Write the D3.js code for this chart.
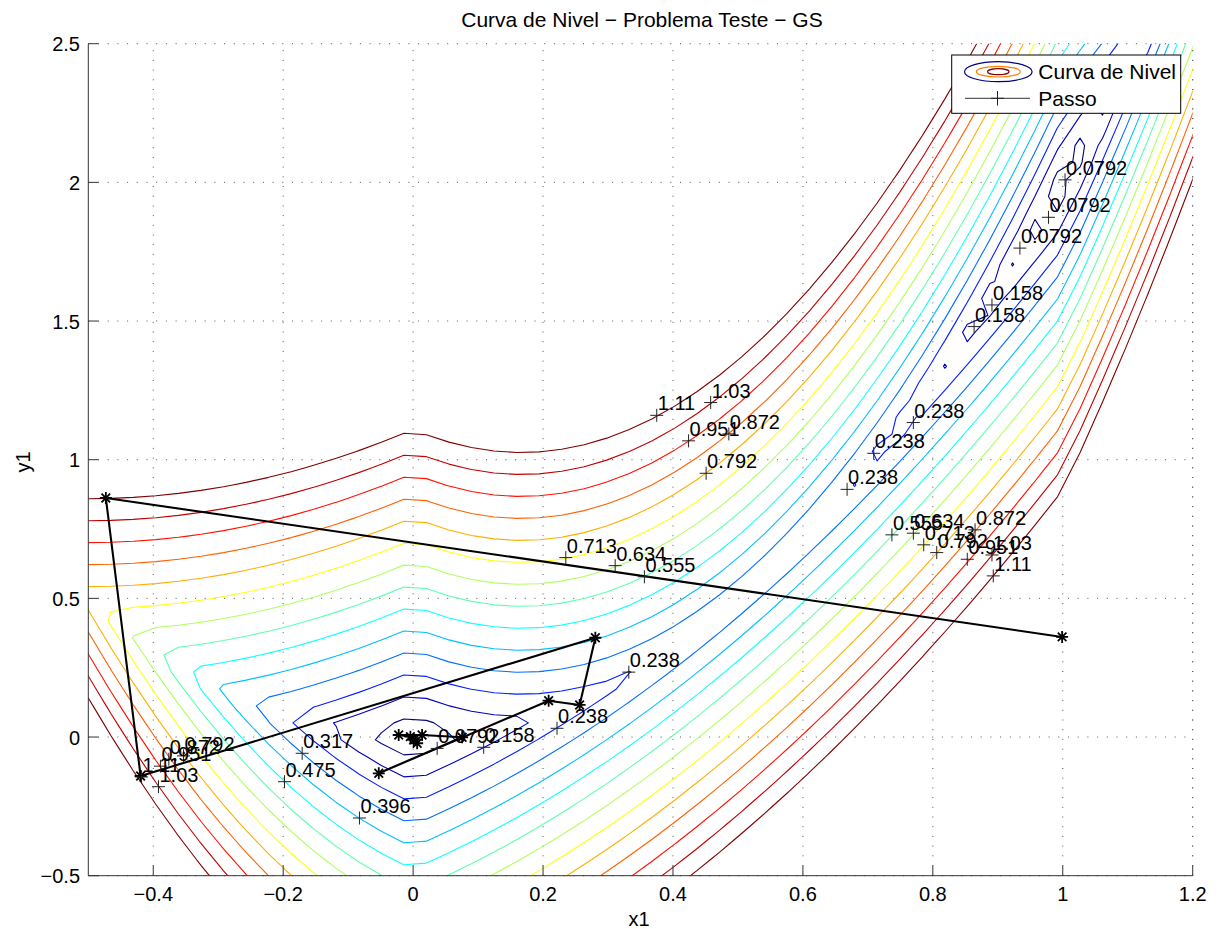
<!DOCTYPE html>
<html><head><meta charset="utf-8">
<script src="https://cdn.jsdelivr.net/npm/d3@7"></script>
<style>
html,body{margin:0;padding:0;background:#fff;}
svg{display:block;font-family:"Liberation Sans",Arial,Helvetica,sans-serif;}
</style></head><body>
<svg id="chart" width="1223" height="929"></svg>
<script>
// ---------- data ----------
const levels = [0.07924, 0.15848, 0.23772, 0.31696, 0.3962, 0.47544, 0.55468,
                0.63392, 0.71316, 0.7924, 0.87164, 0.95088, 1.03012, 1.10936];
const levelColors = ["#000080","#0000bf","#0020ff","#0070ff","#00bfff","#10ffff","#60ffaf",
                     "#afff60","#ffff10","#ffaf00","#ff6000","#ff1000","#bf0000","#800000"];

// iterates of the method ("Passo")
const pathX = [0.999, -0.473, -0.4195, 0.2805, 0.2563, 0.2086, -0.0529, 0.0754, 0.0138, -0.0222, -0.0042, 0.0062, 0.0009];
const pathY = [0.361, 0.862, -0.1405, 0.358, 0.1156, 0.131, -0.1307, -0.001, 0.0074, 0.0074, 0.0013, -0.0225, -0.0106];

// contour labels (clabel "+" points)
const labelText = ["1.11","1.03","0.951","0.872","0.792","0.713","0.634","0.555","0.238",
  "0.238","0.238","0.238","0.555","0.634","0.713","0.792","0.872","0.951","1.03","1.11",
  "0.0792","0.0792","0.0792","0.158","0.158","0.0792","0.158","0.238","0.396","0.317","0.475",
  "0.792","0.872","0.951","1.03","1.11"];
const labelX = [0.375,0.458,0.424,0.486,0.451,0.235,0.311,0.356,0.332,
  0.770,0.709,0.668,0.737,0.770,0.786,0.806,0.865,0.853,0.891,0.893,
  1.0035,0.978,0.934,0.891,0.8635,0.037,0.1086,0.2215,-0.0826,-0.1708,-0.198,
  -0.3534,-0.376,-0.389,-0.392,-0.418];
const labelY = [1.160,1.206,1.068,1.093,0.951,0.647,0.618,0.578,0.234,
  1.134,1.023,0.893,0.729,0.735,0.693,0.665,0.747,0.641,0.6565,0.581,
  2.009,1.874,1.763,1.558,1.480,-0.041,-0.037,0.0315,-0.292,-0.0586,-0.161,
  -0.068,-0.080,-0.105,-0.179,-0.144];

const xTicks = [-0.4,-0.2,0,0.2,0.4,0.6,0.8,1,1.2];
const xTickLabels = ["\u22120.4","\u22120.2","0","0.2","0.4","0.6","0.8","1","1.2"];
const yTicks = [-0.5,0,0.5,1,1.5,2,2.5];
const yTickLabels = ["\u22120.5","0","0.5","1","1.5","2","2.5"];

// sampling grid of the plotted surface (MATLAB-like meshgrid, 50 x 50)
const gridXRange = [-0.5, 1.2];
const gridYRange = [-0.5, 2.5];
const gridN = 50;
function surface(x, y) { return Math.abs(y - 2 * x * x) + Math.abs(x - x * x); }

// ---------- layout ----------
const svg = d3.select("#chart");
const L = 88.3, R = 1192.7, T = 43.7, B = 875.7;
const x = d3.scaleLinear().domain([-0.5, 1.2]).range([L, R]);
const y = d3.scaleLinear().domain([-0.5, 2.5]).range([B, T]);

svg.append("defs").append("clipPath").attr("id","clip")
  .append("rect").attr("x",L).attr("y",T).attr("width",R-L).attr("height",B-T);

// grid
const gGrid = svg.append("g").attr("stroke","#555").attr("stroke-width",1).attr("stroke-dasharray","1,8.7");
xTicks.concat([1.2]).forEach(t => gGrid.append("line").attr("x1",x(t)).attr("x2",x(t)).attr("y1",B).attr("y2",T));
yTicks.forEach(t => gGrid.append("line").attr("x1",L).attr("x2",R).attr("y1",y(t)).attr("y2",y(t)));

// contours
const ext = 2;
const dxg = (gridXRange[1]-gridXRange[0])/(gridN-1), dyg = (gridYRange[1]-gridYRange[0])/(gridN-1);
const nx = gridN + 2*ext, ny = gridN + 2*ext;
const values = new Float64Array(nx*ny);
for (let j = 0; j < ny; j++) for (let i = 0; i < nx; i++) {
  const xv = gridXRange[0] + (i-ext)*dxg, yv = gridYRange[0] + (j-ext)*dyg;
  values[j*nx+i] = surface(xv, yv);
}
const contours = d3.contours().size([nx, ny]).thresholds(levels)(values);
const proj = d3.geoTransform({point: function(px, py) {
  const xv = gridXRange[0] + (px - 0.5 - ext)*dxg, yv = gridYRange[0] + (py - 0.5 - ext)*dyg;
  this.stream.point(x(xv), y(yv));
}});
const gpath = d3.geoPath(proj);
const gC = svg.append("g").attr("clip-path","url(#clip)");
gC.selectAll("path.c").data(contours).join("path")
  .attr("d", gpath).attr("fill","none")
  .attr("stroke", (d,i) => levelColors[i]).attr("stroke-width",1.1).attr("stroke-linejoin","round");

// path of iterates
const pts = pathX.map((v,i)=>[v, pathY[i]]);
const gP = svg.append("g").attr("clip-path","url(#clip)");
gP.append("path").attr("d", d3.line().x(d=>x(d[0])).y(d=>y(d[1]))(pts))
  .attr("fill","none").attr("stroke","#000").attr("stroke-width",2.1).attr("stroke-linejoin","round");
gP.selectAll("path.star").data(pts).join("path")
  .attr("d","M-6,0H6M0,-6V6M-4.3,-4.3L4.3,4.3M-4.3,4.3L4.3,-4.3")
  .attr("transform", d=>`translate(${x(d[0])},${y(d[1])})`)
  .attr("stroke","#000").attr("stroke-width",1.8).attr("fill","none");

// contour labels
const gL = svg.append("g");
labelText.forEach((t,i) => {
  const px = x(labelX[i]), py = y(labelY[i]);
  gL.append("path").attr("d",`M${px-6.5},${py}H${px+6.5}M${px},${py-6.5}V${py+6.5}`)
    .attr("stroke","#222").attr("stroke-width",1);
  gL.append("text").attr("x",px+1).attr("y",py-5).attr("font-size",20).attr("fill","#000").text(t);
});

// axes
const gA = svg.append("g");
gA.append("line").attr("x1",L).attr("x2",L).attr("y1",T).attr("y2",B).attr("stroke","#333").attr("stroke-width",1);
gA.append("line").attr("x1",L).attr("x2",R).attr("y1",B).attr("y2",B).attr("stroke","#333").attr("stroke-width",1);
xTicks.forEach((t,i) => {
  gA.append("line").attr("x1",x(t)).attr("x2",x(t)).attr("y1",B).attr("y2",B-10).attr("stroke","#333");
  gA.append("text").attr("x",x(t)).attr("y",901).attr("text-anchor","middle").attr("font-size",20).text(xTickLabels[i]);
});
yTicks.forEach((t,i) => {
  gA.append("line").attr("x1",L).attr("x2",L+10).attr("y1",y(t)).attr("y2",y(t)).attr("stroke","#333");
  gA.append("text").attr("x",80).attr("y",y(t)+7.5).attr("text-anchor","end").attr("font-size",20).text(yTickLabels[i]);
});
gA.append("text").attr("x",639).attr("y",926).attr("text-anchor","middle").attr("font-size",20).text("x1");
gA.append("text").attr("transform","translate(29.5,462) rotate(-90)").attr("text-anchor","middle").attr("font-size",20).text("y1");
svg.append("text").attr("x",642).attr("y",27).attr("text-anchor","middle").attr("font-size",21)
  .text("Curva de Nivel \u2212 Problema Teste \u2212 GS");

// legend
const gLeg = svg.append("g");
gLeg.append("rect").attr("x",951.7).attr("y",55).attr("width",229).attr("height",58.3)
  .attr("fill","#fff").attr("stroke","#000").attr("stroke-width",1);
[[33.8,10,"#000080"],[22,5.3,"#ff8000"],[10.8,3,"#800000"]].forEach(e =>
  gLeg.append("ellipse").attr("cx",998.3).attr("cy",71.7).attr("rx",e[0]).attr("ry",e[1])
    .attr("fill","none").attr("stroke",e[2]).attr("stroke-width",1.2));
gLeg.append("text").attr("x",1038.3).attr("y",78.5).attr("font-size",21).text("Curva de Nivel");
gLeg.append("line").attr("x1",965).attr("x2",1030).attr("y1",98.3).attr("y2",98.3).attr("stroke","#333").attr("stroke-width",1);
gLeg.append("path").attr("d","M991,98.3H1004M997.5,91V105.5").attr("stroke","#222").attr("stroke-width",1);
gLeg.append("text").attr("x",1038.3).attr("y",105.5).attr("font-size",21).text("Passo");
</script>
</body></html>
